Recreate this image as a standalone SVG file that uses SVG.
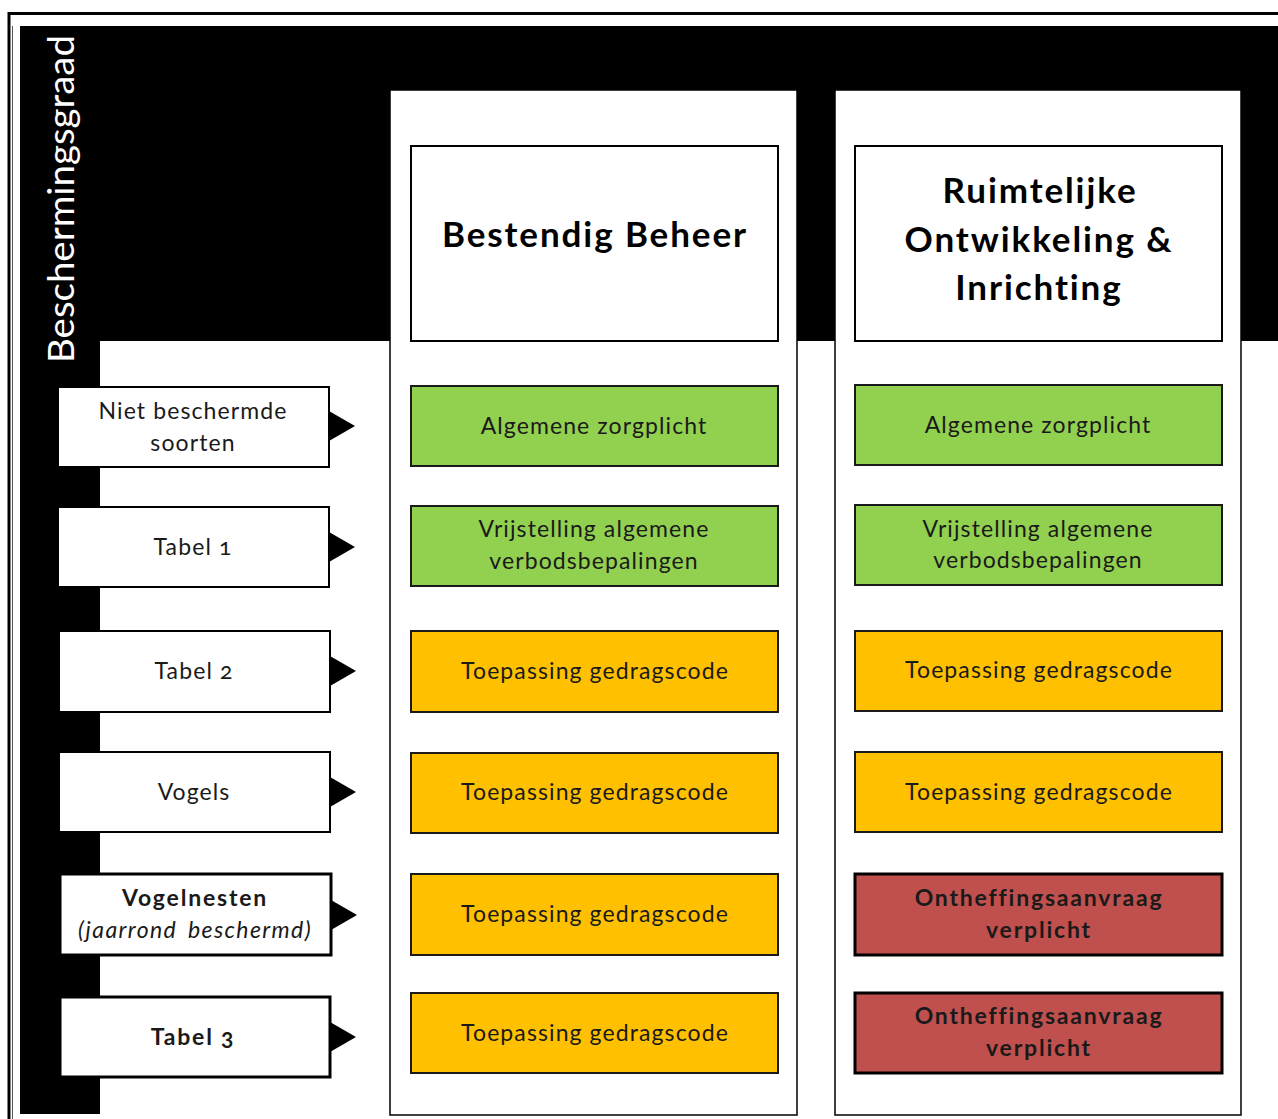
<svg xmlns="http://www.w3.org/2000/svg" width="1278" height="1119" viewBox="0 0 1278 1119">
<style>
  .lbl { font-family: Lato, "Open Sans", sans-serif; font-size: 23px; fill: #1a1a1a; text-anchor: middle; font-variant-numeric: oldstyle-nums; letter-spacing: 1.1px; }
  .b { font-weight: bold; letter-spacing: 1.8px; }
  .it { font-style: italic; letter-spacing: 1.4px; }
  .hdr { font-family: Lato, "Open Sans", sans-serif; font-size: 35px; font-weight: bold; fill: #000; text-anchor: middle; letter-spacing: 1.9px; }
  .lvl { fill: #fff; stroke: #000; stroke-width: 2; }
  .lvlb { fill: #fff; stroke: #000; stroke-width: 3; }
  .green { fill: #92D050; stroke: #1a1a1a; stroke-width: 2; }
  .orange { fill: #FFC000; stroke: #1a1a1a; stroke-width: 2; }
  .red { fill: #C0504D; stroke: #000; stroke-width: 3; }
  .col { fill: #fff; stroke: #000; stroke-width: 1.5; }
  .head { fill: #fff; stroke: #000; stroke-width: 2; }
  .arr { fill: #000; }
</style>
<rect width="1278" height="1119" fill="#fff"/>
<g id="frame">
  <rect x="9" y="13.5" width="1300" height="1120" fill="none" stroke="#000" stroke-width="3"/>
  <line x1="12.5" y1="26" x2="12.5" y2="1119" stroke="#555" stroke-width="1"/>
  <path d="M20 26 H1278 V341 H100 V1114 H20 Z" fill="#000"/>
</g>
<g id="column-bestendig">
  <rect class="col" x="390" y="90" width="407" height="1025"/>
</g>
<g id="column-ruimtelijk">
  <rect class="col" x="835" y="90" width="406" height="1025"/>
</g>
<g id="title">
  <text transform="translate(74,363) rotate(-90)" x="0" y="0" font-family="Lato, 'Open Sans', sans-serif" font-size="36" fill="#fff" textLength="328" lengthAdjust="spacingAndGlyphs">Beschermingsgraad</text>
</g>
<g id="header-bestendig">
  <rect class="head" x="411" y="146" width="367" height="195"/>
  <text class="hdr" x="595" y="247">Bestendig Beheer</text>
</g>
<g id="header-ruimtelijk">
  <rect class="head" x="855" y="146" width="367" height="195"/>
  <text class="hdr" x="1040" y="203" letter-spacing="2.4">Ruimtelijke</text>
  <text class="hdr" x="1039" y="252">Ontwikkeling &amp;</text>
  <text class="hdr" x="1039" y="300">Inrichting</text>
</g>
<g id="level-niet-beschermd">
  <rect class="lvl" x="58" y="387" width="271" height="80"/>
  <text class="lbl" x="193" y="419" letter-spacing="0.9">Niet beschermde</text>
  <text class="lbl" x="193" y="451">soorten</text>
</g>
<g id="level-tabel1">
  <rect class="lvl" x="58" y="507" width="271" height="80"/>
  <text class="lbl" x="193" y="555">Tabel 1</text>
</g>
<g id="level-tabel2">
  <rect class="lvl" x="59" y="631" width="271" height="81"/>
  <text class="lbl" x="194" y="679">Tabel 2</text>
</g>
<g id="level-vogels">
  <rect class="lvl" x="59" y="752" width="271" height="80"/>
  <text class="lbl" x="194" y="800">Vogels</text>
</g>
<g id="level-vogelnesten">
  <rect class="lvlb" x="60" y="874" width="271" height="81"/>
  <text class="lbl b" x="195" y="906">Vogelnesten</text>
  <text class="lbl it" x="195" y="938" word-spacing="4">(jaarrond beschermd)</text>
</g>
<g id="level-tabel3">
  <rect class="lvlb" x="60" y="997" width="270" height="80"/>
  <text class="lbl b" x="193" y="1045">Tabel 3</text>
</g>
<g id="connectors">
  <polygon class="arr" points="329,411 355,426 329,441"/>
  <polygon class="arr" points="329,532 355,547 329,562"/>
  <polygon class="arr" points="330,656 356,671 330,686"/>
  <polygon class="arr" points="330,777 356,792 330,807"/>
  <polygon class="arr" points="331,900 357,915 331,930"/>
  <polygon class="arr" points="330,1022 356,1037 330,1052"/>
</g>
<g id="bb-zorgplicht">
  <rect class="green" x="411" y="386" width="367" height="80"/>
  <text class="lbl" x="594" y="434">Algemene zorgplicht</text>
</g>
<g id="bb-vrijstelling">
  <rect class="green" x="411" y="506" width="367" height="80"/>
  <text class="lbl" x="594" y="537">Vrijstelling algemene</text>
  <text class="lbl" x="594" y="569">verbodsbepalingen</text>
</g>
<g id="bb-gedragscode-tabel2">
  <rect class="orange" x="411" y="631" width="367" height="81"/>
  <text class="lbl" x="595" y="679">Toepassing gedragscode</text>
</g>
<g id="bb-gedragscode-vogels">
  <rect class="orange" x="411" y="753" width="367" height="80"/>
  <text class="lbl" x="595" y="800">Toepassing gedragscode</text>
</g>
<g id="bb-gedragscode-vogelnesten">
  <rect class="orange" x="411" y="874" width="367" height="81"/>
  <text class="lbl" x="595" y="922">Toepassing gedragscode</text>
</g>
<g id="bb-gedragscode-tabel3">
  <rect class="orange" x="411" y="993" width="367" height="80"/>
  <text class="lbl" x="595" y="1041">Toepassing gedragscode</text>
</g>
<g id="ro-zorgplicht">
  <rect class="green" x="855" y="385" width="367" height="80"/>
  <text class="lbl" x="1038" y="433">Algemene zorgplicht</text>
</g>
<g id="ro-vrijstelling">
  <rect class="green" x="855" y="505" width="367" height="80"/>
  <text class="lbl" x="1038" y="537">Vrijstelling algemene</text>
  <text class="lbl" x="1038" y="568">verbodsbepalingen</text>
</g>
<g id="ro-gedragscode-tabel2">
  <rect class="orange" x="855" y="631" width="367" height="80"/>
  <text class="lbl" x="1039" y="678">Toepassing gedragscode</text>
</g>
<g id="ro-gedragscode-vogels">
  <rect class="orange" x="855" y="752" width="367" height="80"/>
  <text class="lbl" x="1039" y="800">Toepassing gedragscode</text>
</g>
<g id="ro-ontheffing-vogelnesten">
  <rect class="red" x="855" y="874" width="367" height="81"/>
  <text class="lbl b" x="1039" y="906">Ontheffingsaanvraag</text>
  <text class="lbl b" x="1039" y="938">verplicht</text>
</g>
<g id="ro-ontheffing-tabel3">
  <rect class="red" x="855" y="993" width="367" height="80"/>
  <text class="lbl b" x="1039" y="1024">Ontheffingsaanvraag</text>
  <text class="lbl b" x="1039" y="1056">verplicht</text>
</g>
</svg>
